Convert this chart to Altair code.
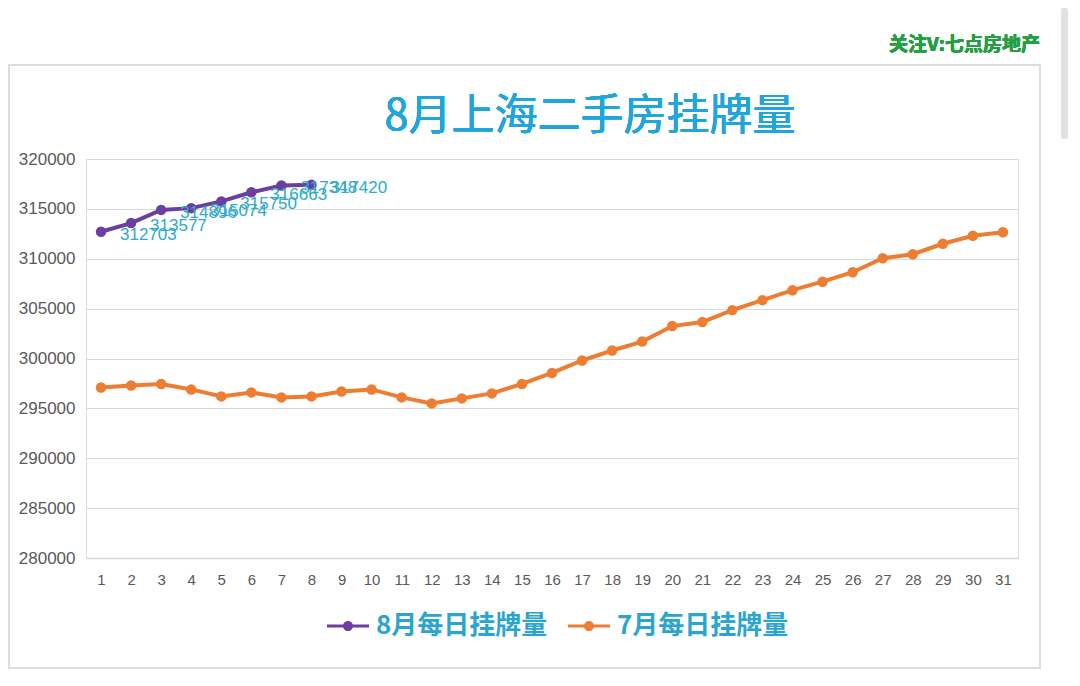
import altair as alt
import pandas as pd

days = list(range(1, 32))
jul_values = [297100, 297300, 297450, 296900, 296200, 296600, 296100, 296200, 296700, 296900,
              296100, 295500, 296000, 296500, 297450, 298550, 299800, 300800, 301700, 303250,
              303650, 304850, 305850, 306850, 307700, 308650, 310050, 310450, 311500, 312300,
              312650]
aug_days = list(range(1, 9))
aug_values = [312703, 313577, 314896, 315074, 315750, 316663, 317348, 317420]

series_aug = "8月每日挂牌量"
series_jul = "7月每日挂牌量"
y_ticks = [280000, 285000, 290000, 295000, 300000, 305000, 310000, 315000, 320000]
title_text = "8月上海二手房挂牌量"
watermark_text = "关注V:七点房地产"

PURPLE = "#6B3FA0"
ORANGE = "#ED7D31"
LABEL_C = "#2FAACB"
TITLE_C = "#21A6DC"
CJK = "Noto Sans CJK SC"
LAT = "Liberation Sans"

df = pd.concat([
    pd.DataFrame({"day": aug_days, "value": aug_values, "series": series_aug}),
    pd.DataFrame({"day": days, "value": jul_values, "series": series_jul}),
])
df_aug = df[df.series == series_aug]

x = alt.X("day:O", title=None,
          scale=alt.Scale(type="point", padding=0.5, domain=days),
          axis=alt.Axis(labelAngle=0, labelFontSize=15, labelColor="#595959", labelFont=LAT,
                        ticks=False, domainColor="#d9d9d9", domainWidth=1.5, labelPadding=14,
                        grid=False))
y = alt.Y("value:Q", title=None,
          scale=alt.Scale(domain=[280000, 320000], nice=False, zero=False),
          axis=alt.Axis(values=y_ticks, format="d", labelFontSize=17, labelColor="#595959",
                        labelFont=LAT, ticks=False, domain=False, gridColor="#d9d9d9",
                        gridWidth=1.2, labelPadding=11))
color_scale = alt.Scale(domain=[series_aug, series_jul], range=[PURPLE, ORANGE])

legend_symbol = ("M-1,-0.07 L1,-0.07 L1,0.07 L-1,0.07 Z "
                 "M0.24,0 A0.24,0.24 0 1,1 -0.24,0 A0.24,0.24 0 1,1 0.24,0 Z")
legend = alt.Legend(title=None, orient="none", direction="horizontal",
                    legendX=241, legendY=446, symbolType=legend_symbol,
                    symbolSize=1764, symbolStrokeWidth=0,
                    labelFontSize=26, labelFont=CJK, labelFontWeight="bold",
                    labelColor="#2AA5CE", labelOffset=7, columnPadding=20,
                    labelLimit=400)

lines = alt.Chart(df).mark_line(strokeWidth=4).encode(
    x=x, y=y,
    color=alt.Color("series:N", scale=color_scale, legend=legend),
)
points = alt.Chart(df).mark_circle(size=110, opacity=1).encode(
    x=x, y=y,
    color=alt.Color("series:N", scale=color_scale, legend=legend),
)
labels = alt.Chart(df_aug).mark_text(align="left", baseline="middle", dx=19, dy=3,
                                     fontSize=17, font=LAT, color=LABEL_C).encode(
    x=x, y=y, text=alt.Text("value:Q", format="d"))

frame = alt.Chart(df_aug).mark_rect(fill=None, stroke="#dcdcdc", strokeWidth=1.5).encode(
    x=alt.value(-77), x2=alt.value(954), y=alt.value(-94), y2=alt.value(509))
scrollbar = alt.Chart(df_aug).mark_rect(fill="#e2e2e2", cornerRadius=3).encode(
    x=alt.value(975), x2=alt.value(982), y=alt.value(-151), y2=alt.value(-20))
watermark = alt.Chart(df_aug).mark_text(align="right", baseline="middle", fontSize=19,
                                        font=CJK, fontWeight="bold", color="#23A043").encode(
    x=alt.value(954), y=alt.value(-114), text=alt.value(watermark_text))
title = alt.Chart(df_aug).mark_text(align="center", baseline="middle", fontSize=43,
                                    font=CJK, fontWeight="normal", color=TITLE_C).encode(
    x=alt.value(504), y=alt.value(-42), text=alt.value(title_text))

chart = alt.layer(frame, scrollbar, watermark, title, lines, points, labels).properties(
    width=932, height=399,
    autosize=alt.AutoSizeParams(type="none"),
    padding={"left": 78, "top": 151, "right": 54, "bottom": 120},
).configure_view(stroke=None).configure(background="white")

chart.save("out.html", embed_options={"renderer": "svg", "actions": False})
